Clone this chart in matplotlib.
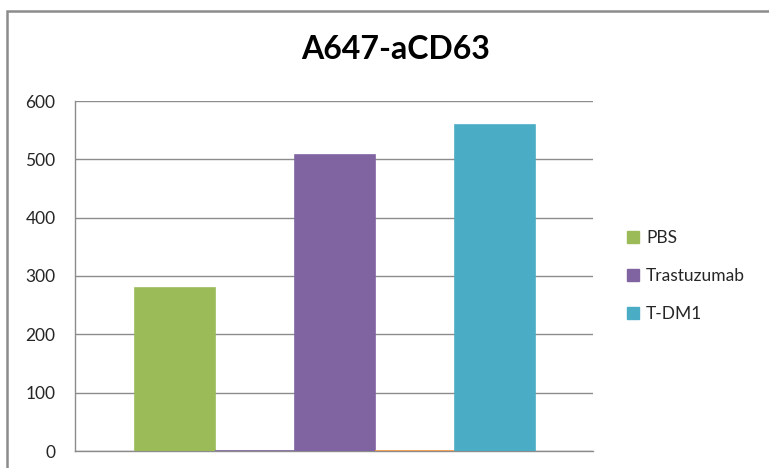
import matplotlib.pyplot as plt
from matplotlib.patches import Rectangle, Patch

plt.rcParams['font.family'] = ['Lato', 'DejaVu Sans']

# Excel-style series: two unnamed zero series sit between the named ones
series = ['PBS', '', 'Trastuzumab', '', 'T-DM1']
values = [280, 0, 507, 0, 559]
colors = ['#9BBB59', '#8064A2', '#8064A2', '#F79646', '#4BACC6']
legend_labels = ['PBS', 'Trastuzumab', 'T-DM1']
legend_colors = ['#9BBB59', '#8064A2', '#4BACC6']
yticks = [0, 100, 200, 300, 400, 500, 600]

fig = plt.figure(figsize=(7.69, 4.68), dpi=100)
ax = fig.add_axes([75 / 769, 17 / 468, 518 / 769, 350 / 468])

x = list(range(len(series)))
ax.bar(x, values, width=1.0, color=colors, edgecolor=colors,
       linewidth=1.2, zorder=3)

ax.set_xlim(-1.25, 5.225)
ax.set_ylim(0, 600)
ax.set_yticks(yticks)
ax.set_xticks([])
ax.grid(axis='y', color='#8c8c8c', linewidth=1, zorder=0)
ax.set_axisbelow(True)
for s in ['top', 'right']:
    ax.spines[s].set_visible(False)
for s in ['left', 'bottom']:
    ax.spines[s].set_color('#8c8c8c')
    ax.spines[s].set_linewidth(1)
ax.tick_params(axis='y', length=0, pad=14, labelsize=12.5, colors='#262626')

fig.text(0.514, 0.895, 'A647-aCD63', ha='center', va='center',
         fontsize=23, fontweight='bold', color='black')

handles = [Patch(facecolor=c, edgecolor=c) for c in legend_colors]
fig.legend(handles, legend_labels, loc='center left',
           bbox_to_anchor=(0.795, 0.41), frameon=False, fontsize=12.5,
           handlelength=0.7, handleheight=0.7, handletextpad=0.4,
           labelspacing=1.25, labelcolor='#262626')

# outer chart frame (cropped at right and bottom)
fig.patches.append(Rectangle((7 / 769, -0.1), 1.0, 1.077,
                             transform=fig.transFigure, fill=False,
                             edgecolor='#8c8c8c', linewidth=1.8))

fig.savefig('out.png', dpi=100)
